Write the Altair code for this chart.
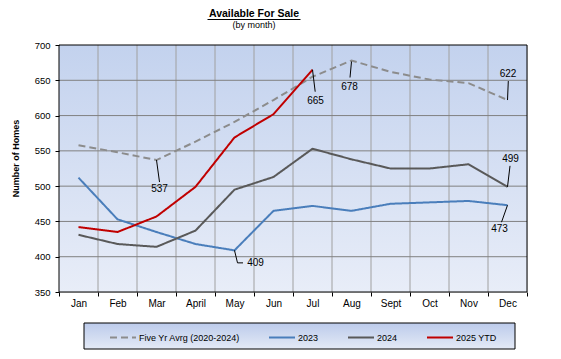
import json
import altair as alt
import pandas as pd

# ---------------- data ----------------
months = ["Jan", "Feb", "Mar", "April", "May", "Jun", "Jul", "Aug", "Sept", "Oct", "Nov", "Dec"]
series_names = ["Five Yr Avrg (2020-2024)", "2023", "2024", "2025 YTD"]
avg5 = [558, 548, 537, 563, 591, 622, 655, 678, 662, 651, 646, 622]
y2023 = [512, 453, 435, 418, 409, 465, 472, 465, 475, 477, 479, 473]
y2024 = [431, 418, 414, 437, 495, 513, 553, 538, 525, 525, 531, 499]
y2025 = [442, 435, 457, 499, 569, 602, 665]
y_ticks = [350, 400, 450, 500, 550, 600, 650, 700]

# annotated points: series index, month index, label
ann_series = [0, 1, 3, 0, 0, 2, 1]
ann_month = [2, 4, 6, 7, 11, 11, 11]
ann_label = ["537", "409", "665", "678", "622", "499", "473"]

# ---------------- layout / style ----------------
W, H = 468, 247
YMIN, YMAX = 350, 700
PPU = H / (YMAX - YMIN)
STEP = W / 12
FONT = "Liberation Sans"
colors = ["#8c8c8c", "#4a7ebb", "#595959", "#c00000"]
dashes = [[7, 4], [1, 0], [1, 0], [1, 0]]

# leader segments (pixel offsets from the point) and label centre offsets
leader_segs = [
    [(0, 0, 3, 22)],
    [(0, 0, 3, 12.5), (3, 12.5, 8.5, 12.5)],
    [(0, 0, 2.7, 22)],
    [(0, 1, -1.5, 17)],
    [(0, 0, 0.8, -19)],
    [(0, 0, 2.5, -21)],
    [(0, 0, -6, 17)],
]
label_off = [(3, 29), (21, 13), (3, 31), (-2, 26), (0.5, -26), (3, -27.5), (-8, 24)]

all_vals = [avg5, y2023, y2024, y2025]
rows = []
for name, vals in zip(series_names, all_vals):
    for i, v in enumerate(vals):
        rows.append({"series": name, "m": i + 0.5, "value": v})
df = pd.DataFrame(rows)

seg_rows, lab_rows = [], []
for k in range(len(ann_label)):
    v = all_vals[ann_series[k]][ann_month[k]]
    m = ann_month[k] + 0.5
    for (x1, y1, x2, y2) in leader_segs[k]:
        seg_rows.append({"x": m + x1 / STEP, "y": v - y1 / PPU,
                         "x2": m + x2 / STEP, "y2": v - y2 / PPU})
    tx, ty = label_off[k]
    lab_rows.append({"x": m + tx / STEP, "y": v - ty / PPU, "t": ann_label[k]})
seg_df = pd.DataFrame(seg_rows)
lab_df = pd.DataFrame(lab_rows)

one = pd.DataFrame({"a": [0]})
vgrid = pd.DataFrame({"b": list(range(1, 12))})
hgrid = pd.DataFrame({"v": [t for t in y_ticks if YMIN < t < YMAX]})

xscale = alt.Scale(domain=[0, 12], nice=False, zero=False)
yscale = alt.Scale(domain=[YMIN, YMAX], nice=False, zero=False)

label_expr = "datum.value < 12 ? " + json.dumps(months) + "[datum.value] : ''"

x_axis = alt.Axis(values=list(range(13)), labelExpr=label_expr, labelOffset=STEP / 2,
                  labelOverlap=False, labelFlush=False, labelBound=False, grid=False,
                  domain=False, tickSize=4, tickColor="black", labelPadding=2,
                  labelFontSize=10, labelColor="black", labelFont=FONT, title=None, zindex=1)
y_axis = alt.Axis(values=y_ticks, labelOverlap=False, labelFlush=False, labelBound=False,
                  grid=False, domain=False, tickSize=4, tickColor="black",
                  labelPadding=5, labelFontSize=9.5, labelColor="black", labelFont=FONT,
                  title="Number of  Homes", titleFont=FONT, titleFontSize=9,
                  titleFontWeight="bold", titleColor="black", titleX=-44, titleY=113,
                  titleAlign="center", titleBaseline="middle", zindex=1)

plot_grad = {"gradient": "linear", "x1": 0, "y1": 0, "x2": 0, "y2": 1,
             "stops": [{"offset": 0, "color": "#c3d2ee"}, {"offset": 1, "color": "#e8edf8"}]}
leg_grad = {"gradient": "linear", "x1": 0, "y1": 0, "x2": 0, "y2": 1,
            "stops": [{"offset": 0, "color": "#bccbeb"}, {"offset": 1, "color": "#e4eaf6"}]}

bg = alt.Chart(one).mark_rect(fill=plot_grad).encode(
    x=alt.value(0), x2=alt.value(W), y=alt.value(0), y2=alt.value(H))

vg = alt.Chart(vgrid).mark_rule(color="#a0a0a0", strokeWidth=1).encode(
    x=alt.X("b:Q", scale=xscale, axis=x_axis))
hg = alt.Chart(hgrid).mark_rule(color="#808080", strokeWidth=1).encode(
    y=alt.Y("v:Q", scale=yscale, axis=y_axis))

legend = alt.Legend(title=None, orient="none", legendX=50, legendY=278.5,
                    direction="horizontal", columns=4, symbolType="stroke",
                    symbolSize=676, symbolStrokeWidth=2, labelFontSize=9,
                    labelFont=FONT, labelColor="black", labelOffset=2,
                    columnPadding=25, padding=0)

lines = alt.Chart(df).mark_line(strokeWidth=2).encode(
    x=alt.X("m:Q", scale=xscale, axis=x_axis),
    y=alt.Y("value:Q", scale=yscale, axis=y_axis),
    color=alt.Color("series:N", scale=alt.Scale(domain=series_names, range=colors),
                    sort=series_names, legend=legend),
    strokeDash=alt.StrokeDash("series:N", scale=alt.Scale(domain=series_names, range=dashes),
                              sort=series_names, legend=legend),
    order=alt.Order("m:Q"),
)

leaders = alt.Chart(seg_df).mark_rule(color="black", strokeWidth=1).encode(
    x=alt.X("x:Q", scale=xscale, axis=x_axis), x2="x2:Q",
    y=alt.Y("y:Q", scale=yscale, axis=y_axis), y2="y2:Q")

labels = alt.Chart(lab_df).mark_text(font=FONT, fontSize=10, color="black",
                                     align="center", baseline="middle").encode(
    x=alt.X("x:Q", scale=xscale, axis=x_axis), y=alt.Y("y:Q", scale=yscale, axis=y_axis),
    text="t:N")

border = alt.Chart(one).mark_rect(fillOpacity=0, stroke="black", strokeWidth=1).encode(
    x=alt.value(0), x2=alt.value(W), y=alt.value(0), y2=alt.value(H))

leg_box = alt.Chart(one).mark_rect(fill=leg_grad, stroke="black", strokeWidth=1).encode(
    x=alt.value(25), x2=alt.value(456), y=alt.value(278), y2=alt.value(304))

TITLE_X = 195
title = alt.Chart(one).mark_text(text="Available For Sale", font=FONT, fontSize=10.5,
                                 fontWeight="bold", color="black", align="center",
                                 baseline="alphabetic").encode(
    x=alt.value(TITLE_X), y=alt.value(-28))
underline = alt.Chart(one).mark_rule(color="black", strokeWidth=1).encode(
    x=alt.value(TITLE_X - 46.5), x2=alt.value(TITLE_X + 46.5), y=alt.value(-25.5))
subtitle = alt.Chart(one).mark_text(text="(by month)", font=FONT, fontSize=9,
                                    color="black", align="center",
                                    baseline="alphabetic").encode(
    x=alt.value(TITLE_X), y=alt.value(-17))

chart = alt.layer(bg, vg, hg, lines, leaders, labels, border, leg_box, title, underline,
                  subtitle).properties(
    width=W, height=H,
    autosize=alt.AutoSizeParams(type="none"),
    padding={"left": 51, "top": 37, "right": 26, "bottom": 58},
).configure_view(stroke=None).configure(background="white")

chart.save("out.html", embed_options={"renderer": "svg", "actions": False})
